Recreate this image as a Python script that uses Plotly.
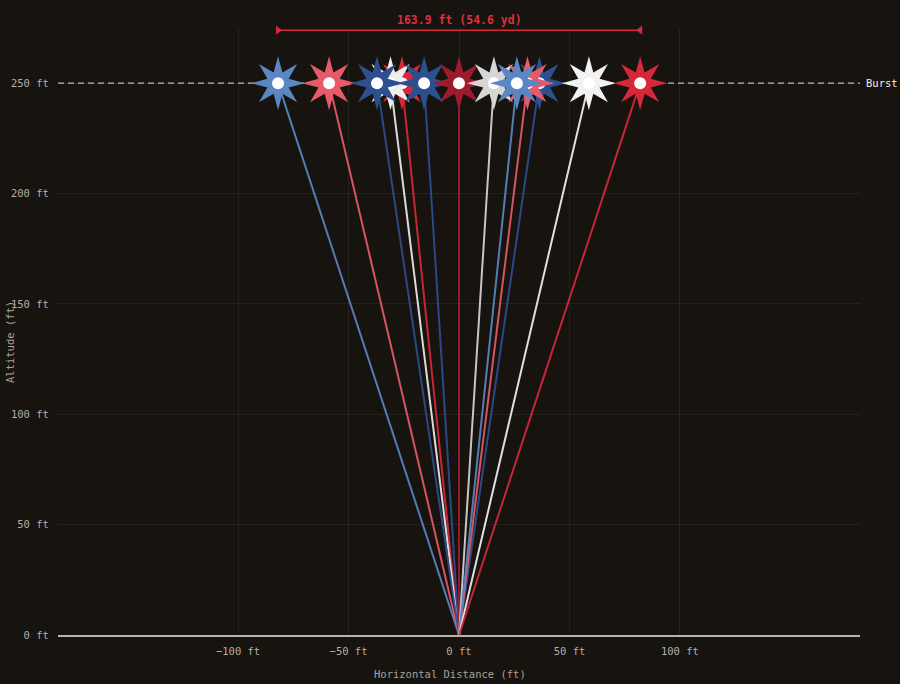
import math
import plotly.graph_objects as go

# ---- data ----
burst_x = [-81.9, -58.8, -37.1, -31.0, -25.8, -15.8, 0.0, 15.8, 26.2, 31.0, 36.4, 58.8, 82.0]
burst_colors = ["#5b86c4", "#e85a69", "#2c4f8f", "#eeeeee", "#d62839", "#2c4f8f", "#9e1b2e",
                "#d6d6d6", "#5b86c4", "#e85a69", "#2c4f8f", "#f2f2f2", "#d62839"]
draw_order = [0, 1, 4, 3, 2, 5, 6, 7, 10, 9, 8, 11, 12]
burst_alt = 250
launch_x = 0.0
launch_y = 0
span_y = 274
y_ticks = [0, 50, 100, 150, 200, 250]
x_ticks = [-100, -50, 0, 50, 100]

BG = "#17130f"
FONT = "DejaVu Sans Mono"
TICK_C = "#b5afa5"


def fmt(v):
    return ("\u2212" if v < 0 else "") + f"{abs(v):g} ft"


# glyph geometry (pixels, relative to the burst point)
def star_path(r_out=27, r_in=11.5, n=8):
    pts = []
    for k in range(2 * n):
        a = math.pi / 2 - k * math.pi / n
        r = r_out if k % 2 == 0 else r_in
        pts.append((r * math.cos(a), r * math.sin(a)))
    return "M " + " L ".join(f"{x:.2f},{y:.2f}" for x, y in pts) + " Z"


STAR = star_path()
DOT_R = 6

fig = go.Figure()

# trajectories
for i in draw_order:
    fig.add_trace(go.Scatter(
        x=[launch_x, burst_x[i]], y=[launch_y, burst_alt], mode="lines",
        line=dict(color=burst_colors[i], width=2), opacity=0.92,
        hoverinfo="skip", showlegend=False))

# bursts (star glyph anchored on each data point, then white core)
for i in draw_order:
    fig.add_shape(type="path", xref="x", yref="y", xsizemode="pixel", ysizemode="pixel",
                  xanchor=burst_x[i], yanchor=burst_alt, path=STAR,
                  fillcolor=burst_colors[i], line=dict(width=0), layer="above")
    fig.add_shape(type="circle", xref="x", yref="y", xsizemode="pixel", ysizemode="pixel",
                  xanchor=burst_x[i], yanchor=burst_alt,
                  x0=-DOT_R, x1=DOT_R, y0=-DOT_R, y1=DOT_R,
                  fillcolor="#ffffff", line=dict(width=0), layer="above")

# span
xmin, xmax = min(burst_x), max(burst_x)
span_ft = xmax - xmin
fig.add_trace(go.Scatter(
    x=[xmin, xmax], y=[span_y, span_y], mode="lines+markers",
    line=dict(color="#d62839", width=1.5),
    marker=dict(symbol=["triangle-right", "triangle-left"], size=8, color="#d62839"),
    showlegend=False, hoverinfo="skip", cliponaxis=False))

fig.add_annotation(x=(xmin + xmax) / 2, y=span_y, yshift=10, showarrow=False,
                   text=f"<b>{span_ft:.1f} ft ({span_ft/3:.1f} yd)</b>",
                   font=dict(family=FONT, size=11.5, color="#d8323f"))

# burst altitude line
fig.add_shape(type="line", xref="paper", x0=0, x1=1, y0=burst_alt, y1=burst_alt,
              line=dict(color="#bdb8b0", width=1.3, dash="6px,4px"), layer="below")
fig.add_annotation(xref="paper", x=1, y=burst_alt, xanchor="left", xshift=4, showarrow=False,
                   text="Burst", font=dict(family=FONT, size=10.5, color="#eeeeee"))

# titles
fig.add_annotation(xref="paper", yref="paper", x=(10 - 58) / 802, y=(635 - 342) / 607,
                   xanchor="center", yanchor="middle",
                   textangle=-90, showarrow=False, text="Altitude (ft)",
                   font=dict(family=FONT, size=10.5, color="#a8a29a"))
fig.add_annotation(xref="paper", yref="paper", x=(450 - 58) / 802, y=-(674 - 635) / 607,
                   xanchor="center", yanchor="middle",
                   showarrow=False, text="Horizontal Distance (ft)",
                   font=dict(family=FONT, size=10.5, color="#a8a29a"))

fig.update_layout(
    width=900, height=684,
    margin=dict(l=58, r=40, t=28, b=49),
    paper_bgcolor=BG, plot_bgcolor=BG,
    font=dict(family=FONT, size=11, color=TICK_C),
    showlegend=False,
    xaxis=dict(range=[-181.5, 181.5], tickmode="array", tickvals=x_ticks,
               ticktext=[fmt(v) for v in x_ticks],
               showgrid=True, gridcolor="rgba(255,255,255,0.06)", gridwidth=1,
               zeroline=False, showline=True, linecolor="#b8b2aa", linewidth=2,
               ticks="outside", ticklen=5, tickcolor=BG,
               tickfont=dict(family=FONT, size=10.5, color=TICK_C), fixedrange=True),
    yaxis=dict(range=[0, 275], tickmode="array", tickvals=y_ticks,
               ticktext=[fmt(v) for v in y_ticks],
               showgrid=True, gridcolor="rgba(255,255,255,0.06)", gridwidth=1,
               zeroline=False, showline=False,
               ticks="outside", ticklen=6, tickcolor=BG,
               tickfont=dict(family=FONT, size=10.5, color=TICK_C), fixedrange=True),
)

fig.write_html("out.html")
